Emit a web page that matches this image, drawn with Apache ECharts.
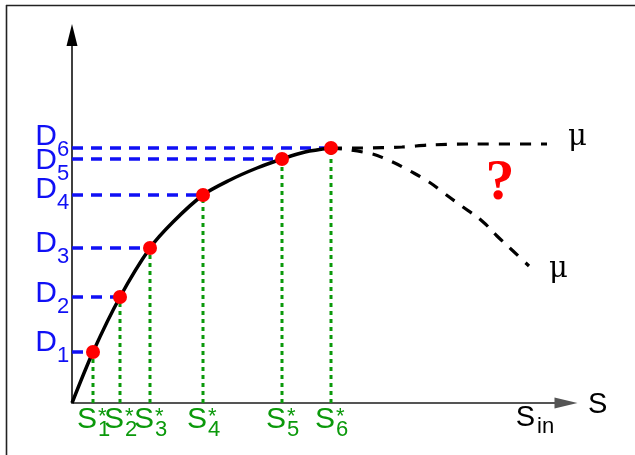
<!DOCTYPE html>
<html>
<head>
<meta charset="utf-8">
<script src="https://cdn.jsdelivr.net/npm/echarts@6/dist/echarts.min.js"></script>
<style>
html,body{margin:0;padding:0;background:#fff;}
#c{width:635px;height:455px;}
</style>
</head>
<body>
<div id="c"></div>
<script>
// Data (x = S, y = D, arbitrary units)
const sStar = [21, 48, 78, 131, 210, 259];
const dVals = [51, 106, 155, 208, 244, 255];
const subIdx = ['1', '2', '3', '4', '5', '6'];
const curveX = [0, 21, 48, 78, 101, 131, 158, 185, 210, 233, 259];
const curveY = [0, 51, 106, 155, 181, 208, 223, 235, 244, 251, 255];
const upperX = [259, 290, 330, 358, 400, 475];
const upperY = [255, 255, 256, 258, 259, 259];
const lowerX = [259, 296, 316, 336, 357, 373, 391, 410, 425, 440, 457];
const lowerY = [255, 250, 243, 233, 221, 209, 196, 182, 167, 153, 137];

const BLUE = '#1010f5';
const GREEN = '#0b990b';
const SANS = '"Liberation Sans", Arial, sans-serif';
const SERIF = '"DejaVu Serif", "Liberation Serif", serif';

const chart = echarts.init(document.getElementById('c'), null, {renderer: 'canvas'});
const zip = (xs, ys) => xs.map((x, i) => [x, ys[i]]);

const series = [];
sStar.forEach((s, i) => {
  series.push({
    type: 'line', data: [[0, dVals[i]], [s, dVals[i]]], showSymbol: false, silent: true, z: 2,
    lineStyle: {color: BLUE, width: 3.5, type: [11, 8]}
  });
  series.push({
    type: 'line', data: [[s, 0], [s, dVals[i]]], showSymbol: false, silent: true, z: 2,
    lineStyle: {color: GREEN, width: 3, type: [4, 4]}
  });
});
series.push({
  type: 'line', data: zip(curveX, curveY), smooth: 0.3, showSymbol: false, z: 3,
  lineStyle: {color: '#000', width: 3.5}
});
series.push({
  type: 'line', data: zip(upperX, upperY), smooth: 0.3, showSymbol: false, z: 3,
  lineStyle: {color: '#000', width: 3.2, type: [11, 10]}
});
series.push({
  type: 'line', data: zip(lowerX, lowerY), smooth: 0.5, showSymbol: false, z: 3,
  lineStyle: {color: '#000', width: 3.2, type: [11, 10]}
});
series.push({
  type: 'scatter', data: zip(sStar, dVals), symbolSize: 14, z: 5,
  itemStyle: {color: '#ff0000', opacity: 1}
});

chart.setOption({
  animation: false,
  grid: {left: 72, right: 69, top: 35, bottom: 52},
  xAxis: {
    type: 'value', min: 0, max: 494,
    axisLine: {show: true, symbol: ['none', 'triangle'], symbolSize: [11, 23],
      lineStyle: {color: '#555', width: 2}},
    axisTick: {show: false}, axisLabel: {show: false}, splitLine: {show: false}
  },
  yAxis: {
    type: 'value', min: 0, max: 368,
    axisLine: {show: true, symbol: ['none', 'triangle'], symbolSize: [11, 22],
      lineStyle: {color: '#000', width: 1.5}},
    axisTick: {show: false}, axisLabel: {show: false}, splitLine: {show: false}
  },
  series: series
});

const px = (x, y) => chart.convertToPixel({gridIndex: 0}, [x, y]);
const graphic = [];
// frame
graphic.push({type: 'line', shape: {x1: 6, y1: 5.5, x2: 635, y2: 5.5}, style: {stroke: '#222', lineWidth: 1.6}, silent: true});
graphic.push({type: 'line', shape: {x1: 6.5, y1: 5, x2: 6.5, y2: 455}, style: {stroke: '#222', lineWidth: 1.6}, silent: true});

function txt(x, y, text, font, fill, align, va) {
  graphic.push({type: 'text', x: x, y: y, silent: true, z: 10,
    style: {text: text, font: font, fill: fill, align: align || 'left', verticalAlign: va || 'middle'}});
}

const dOff = [-9, -3, -4, -5, 2, -11];
dVals.forEach((d, i) => {
  const p = px(0, d);
  const yc = p[1] + dOff[i];
  txt(p[0] - 15, yc, 'D', '30px ' + SANS, BLUE, 'right');
  txt(p[0] - 15, yc + 13, subIdx[i], '22px ' + SANS, BLUE, 'left');
});
sStar.forEach((s, i) => {
  const p = px(s, 0);
  txt(p[0] + 4, p[1] + 17, 'S', '30px ' + SANS, GREEN, 'right');
  txt(p[0] + 5, p[1] + 27, subIdx[i], '22px ' + SANS, GREEN, 'left');
  txt(p[0] + 5, p[1] + 3, '*', '22px ' + SANS, GREEN, 'left', 'top');
});
// axis names
const o = px(0, 0);
txt(535, o[1] + 15, 'S', '29px ' + SANS, '#000', 'right');
txt(537, o[1] + 24, 'in', '22px ' + SANS, '#000', 'left');
txt(588, o[1] + 2, 'S', '29px ' + SANS, '#000', 'left');
// mu labels at branch ends
const ue = px(upperX[upperX.length - 1], upperY[upperY.length - 1]);
txt(ue[0] + 21, ue[1] - 7, 'μ', '29px ' + SERIF, '#000', 'left');
const le = px(lowerX[lowerX.length - 1], lowerY[lowerY.length - 1]);
txt(le[0] + 20, le[1] + 3, 'μ', '29px ' + SERIF, '#000', 'left');
// question mark
txt(500, 184, '?', 'bold 58px "Liberation Serif", serif', '#ff0000', 'center');

chart.setOption({graphic: graphic});
</script>
</body>
</html>
